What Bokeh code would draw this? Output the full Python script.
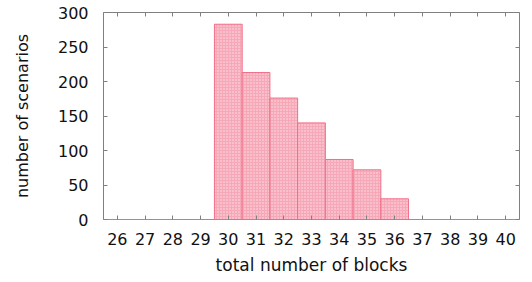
from bokeh.plotting import figure
from bokeh.models import LinearAxis, FixedTicker, Range1d
from bokeh.embed import file_html
from bokeh.resources import INLINE

blocks = [26, 27, 28, 29, 30, 31, 32, 33, 34, 35, 36, 37, 38, 39, 40]
scenarios = [0, 0, 0, 0, 283, 213, 176, 140, 87, 72, 30, 0, 0, 0, 0]
y_ticks = [0, 50, 100, 150, 200, 250, 300]

p = figure(frame_width=416, frame_height=207, output_backend="svg", toolbar_location=None,
           x_range=Range1d(25.5, 40.5), y_range=Range1d(0, 300),
           min_border_left=103, min_border_right=5, min_border_top=12, min_border_bottom=50)

p.vbar(x=blocks, top=scenarios, width=1.0, fill_color="#f6a8b8", line_color="#f07088",
       line_width=1, hatch_pattern="dot", hatch_color="#fde2e8", hatch_scale=3, hatch_weight=1)

p.xgrid.visible = False
p.ygrid.visible = False
p.outline_line_color = "#808080"
p.outline_line_width = 1

font = "DejaVu Sans"
for ax in [p.xaxis[0], p.yaxis[0]]:
    ax.axis_line_color = None
    ax.major_tick_in = 4
    ax.major_tick_out = 0
    ax.minor_tick_line_color = None
    ax.major_tick_line_color = "#808080"
    ax.major_label_text_font = font
    ax.major_label_text_font_size = "16px"
    ax.major_label_text_color = "#111111"
    ax.axis_label_text_font = font
    ax.axis_label_text_font_style = "normal"
    ax.axis_label_text_color = "#111111"

p.xaxis.ticker = FixedTicker(ticks=blocks)
p.yaxis.ticker = FixedTicker(ticks=y_ticks)
p.xaxis.axis_label = "total number of blocks"
p.yaxis.axis_label = "number of scenarios"
p.xaxis.axis_label_text_font_size = "17px"
p.yaxis.axis_label_text_font_size = "16px"
p.xaxis.major_label_standoff = 13
p.yaxis.major_label_standoff = 15
p.xaxis.axis_label_standoff = 7
p.yaxis.axis_label_standoff = 23

top = LinearAxis(ticker=FixedTicker(ticks=blocks), axis_line_color=None, major_tick_in=4,
                 major_tick_out=0, minor_tick_line_color=None, major_tick_line_color="#808080",
                 major_label_overrides={t: "" for t in blocks}, major_label_standoff=0)
right = LinearAxis(ticker=FixedTicker(ticks=y_ticks), axis_line_color=None, major_tick_in=4,
                   major_tick_out=0, minor_tick_line_color=None, major_tick_line_color="#808080",
                   major_label_overrides={t: "" for t in y_ticks}, major_label_standoff=0)
p.add_layout(top, "above")
p.add_layout(right, "right")

open("out.html", "w").write(file_html(p, INLINE))
